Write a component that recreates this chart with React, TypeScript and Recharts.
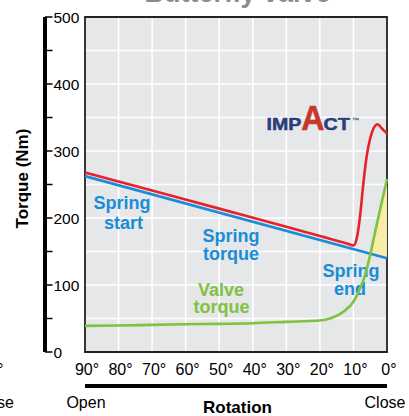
import React from 'react';
import {
  ComposedChart,
  Line,
  Area,
  XAxis,
  YAxis,
  CartesianGrid,
  ReferenceArea,
  Customized,
  Label,
} from 'recharts';

const FONT = '"Liberation Sans", Arial, Helvetica, sans-serif';
const BLUE = '#1a8cd8';
const RED = '#e8212a';
const GREEN = '#7fc241';
const YELLOW = '#f8eca6';
const BG = '#e6e7e9';
const NAVY = '#2c3d7c';
const LOGO_RED = '#c8372b';

// Tick values
const xTicks = [90, 80, 70, 60, 50, 40, 30, 20, 10, 0];
const yTicks = [0, 50, 100, 150, 200, 250, 300, 350, 400, 450, 500];
const xEndLabels: Record<number, string> = { 90: 'Open', 0: 'Close' };

// Spring torque (blue, straight)
const springDeg = [90, 0];
const springTorque = [262.5, 140];

// Total torque (red)
const totalDeg = [90, 70, 50, 30, 20, 12, 10, 9, 8, 7, 6, 5, 4, 2.8, 1.6, 0];
const totalTorque = [268, 241, 214, 187, 173, 162, 159, 170, 204, 254, 294, 319, 334, 340, 334, 326];

// Valve torque (green)
const valveDeg = [90, 80, 70, 60, 50, 40, 30, 20, 17, 13, 10, 8, 6.5, 5, 3.5, 2, 0];
const valveTorque = [39, 39.5, 40.5, 41.5, 42, 43, 45, 47, 50, 60, 75, 95, 115, 145, 180, 214, 258];

// Shaded region between spring and valve torque near closing
const fillDeg = [4.9, 3.5, 2, 0];
const fillSpring = [146.7, 144.8, 142.7, 140];
const fillValve = [146.7, 180, 214, 258];

const springData = springDeg.map((d, i) => ({ deg: d, v: springTorque[i] }));
const totalData = totalDeg.map((d, i) => ({ deg: d, v: totalTorque[i] }));
const valveData = valveDeg.map((d, i) => ({ deg: d, v: valveTorque[i] }));
const fillData = fillDeg.map((d, i) => ({ deg: d, range: [fillSpring[i], fillValve[i]] }));

const Y_LABEL_AXIS_W = 40;

const YTick = (props: any) => {
  const x = Number(props.x);
  const y = Number(props.y);
  const left = x - Y_LABEL_AXIS_W;
  const v = Number(props.payload.value);
  return (
    <g>
      <line x1={left} y1={y} x2={left + 7.5} y2={y} stroke="#000" strokeWidth={1.5} />
      {v % 100 === 0 ? (
        <text x={left + 8.5} y={y + 5.5} textAnchor="start" fontFamily={FONT} fontSize={15.5} fill="#000">
          {v}
        </text>
      ) : null}
    </g>
  );
};

const XTickLabel = (props: any) => {
  const x = Number(props.x);
  const y = Number(props.y);
  const v = Number(props.payload.value);
  const end = xEndLabels[v];
  return (
    <g>
      <text x={x + 2} y={y + 23} textAnchor="middle" fontFamily={FONT} fontSize={16} fill="#000">
        {`${v}°`}
      </text>
      {end ? (
        <text
          x={x + (v === 0 ? -2 : 1)}
          y={y + 56}
          textAnchor="middle"
          fontFamily={FONT}
          fontSize={16}
          fill="#000"
        >
          {end}
        </text>
      ) : null}
    </g>
  );
};

const XTickMark = (props: any) => {
  const x = Number(props.x);
  const y = Number(props.y);
  return <line x1={x} y1={y - 8} x2={x} y2={y} stroke="#000" strokeWidth={1.8} />;
};

const Decorations = () => (
  <g>
    {/* cropped title */}
    <text x={237.5} y={1.5} textAnchor="middle" fontFamily={FONT} fontWeight="bold" fontSize={27} fill="#8c8c8c">
      Butterfly valve
    </text>
    {/* cropped neighbour artefacts at the left edge */}
    <text x={14} y={408} textAnchor="end" fontFamily={FONT} fontSize={16} fill="#000">
      Close
    </text>
    <text x={3.5} y={375} textAnchor="end" fontFamily={FONT} fontSize={16} fill="#000">
      0°
    </text>
    {/* y axis title */}
    <text
      transform="rotate(-90)"
      x={-178.5}
      y={27.5}
      textAnchor="middle"
      fontFamily={FONT}
      fontWeight="bold"
      fontSize={17}
      fill="#000"
    >
      Torque (Nm)
    </text>
    {/* annotations */}
    <g fontFamily={FONT} fontWeight="bold" fontSize={18} textAnchor="middle">
      <text x={122} y={209} fill={BLUE}>Spring</text>
      <text x={123.5} y={229} fill={BLUE}>start</text>
      <text x={231} y={242} fill={BLUE}>Spring</text>
      <text x={231} y={260} fill={BLUE}>torque</text>
      <text x={351} y={277} fill={BLUE}>Spring</text>
      <text x={350} y={295} fill={BLUE}>end</text>
      <text x={221} y={295.5} fill={GREEN}>Valve</text>
      <text x={221.5} y={313} fill={GREEN}>torque</text>
    </g>
    {/* logo */}
    <g fontWeight="bold" fontFamily={FONT}>
      <text
        transform="translate(266.5,130) scale(1.2,1)"
        x={0}
        y={0}
        fontSize={16.3}
        fill={NAVY}
        stroke={NAVY}
        strokeWidth={0.5}
      >
        IMP
      </text>
      <text
        transform="translate(301.3,130) scale(0.92,1)"
        x={0}
        y={0}
        fontSize={35}
        fill={LOGO_RED}
        stroke={LOGO_RED}
        strokeWidth={0.6}
      >
        A
      </text>
      <text
        transform="translate(323.5,130) scale(1.2,1)"
        x={0}
        y={0}
        fontSize={16.3}
        letterSpacing={0.4}
        fill={NAVY}
        stroke={NAVY}
        strokeWidth={0.5}
      >
        CT
      </text>
      <text x={352} y={123} fontSize={7.5} fill={NAVY}>
        ™
      </text>
    </g>
  </g>
);

export default function App() {
  return (
    <div style={{ position: 'absolute', left: 0, top: 0, width: 409, height: 416, fontFamily: FONT }}>
      <ComposedChart width={409} height={416} margin={{ top: 17, right: 22, bottom: 0, left: 35 }}>
        <CartesianGrid
          xAxisId="x"
          yAxisId="y"
          fill={BG}
          fillOpacity={1}
          stroke="#ffffff"
          strokeWidth={1.5}
        />
        <XAxis
          xAxisId="x"
          dataKey="deg"
          type="number"
          domain={[0, 90]}
          reversed
          ticks={xTicks}
          interval={0}
          height={34}
          axisLine={false}
          tickLine={false}
          tickSize={0}
          tickMargin={0}
          tick={XTickLabel}
        />
        <XAxis
          xAxisId="xl"
          dataKey="deg"
          type="number"
          domain={[0, 90]}
          reversed
          ticks={xTicks}
          interval={0}
          height={30}
          axisLine={{ stroke: '#000', strokeWidth: 4 }}
          tickLine={false}
          tickSize={0}
          tickMargin={0}
          tick={XTickMark}
        >
          <Label
            value="Rotation"
            position="insideBottom"
            offset={3}
            dx={1.5}
            style={{ fontWeight: 'bold', fontSize: 17, fill: '#000', fontFamily: FONT }}
          />
        </XAxis>
        <YAxis
          yAxisId="y"
          type="number"
          domain={[0, 500]}
          ticks={yTicks}
          interval={0}
          width={Y_LABEL_AXIS_W}
          axisLine={false}
          tickLine={false}
          tickSize={0}
          tickMargin={0}
          tick={YTick}
        />
        <YAxis
          yAxisId="yl"
          type="number"
          domain={[0, 500]}
          width={10}
          axisLine={{ stroke: '#000', strokeWidth: 4 }}
          tickLine={false}
          tick={false}
        />
        <ReferenceArea
          xAxisId="x"
          yAxisId="y"
          x1={0}
          x2={90}
          y1={0}
          y2={500}
          fill="none"
          fillOpacity={0}
          stroke="#222"
          strokeWidth={1.8}
        />
        <Area
          xAxisId="x"
          yAxisId="y"
          data={fillData}
          dataKey="range"
          type="linear"
          fill={YELLOW}
          fillOpacity={1}
          stroke="none"
          isAnimationActive={false}
          dot={false}
          activeDot={false}
        />
        <Line
          xAxisId="x"
          yAxisId="y"
          data={springData}
          dataKey="v"
          type="linear"
          stroke={BLUE}
          strokeWidth={2.6}
          dot={false}
          activeDot={false}
          isAnimationActive={false}
        />
        <Line
          xAxisId="x"
          yAxisId="y"
          data={totalData}
          dataKey="v"
          type="monotone"
          stroke={RED}
          strokeWidth={2.6}
          dot={false}
          activeDot={false}
          isAnimationActive={false}
        />
        <Line
          xAxisId="x"
          yAxisId="y"
          data={valveData}
          dataKey="v"
          type="monotone"
          stroke={GREEN}
          strokeWidth={2.6}
          dot={false}
          activeDot={false}
          isAnimationActive={false}
        />
        <Customized component={Decorations} />
      </ComposedChart>
    </div>
  );
}
